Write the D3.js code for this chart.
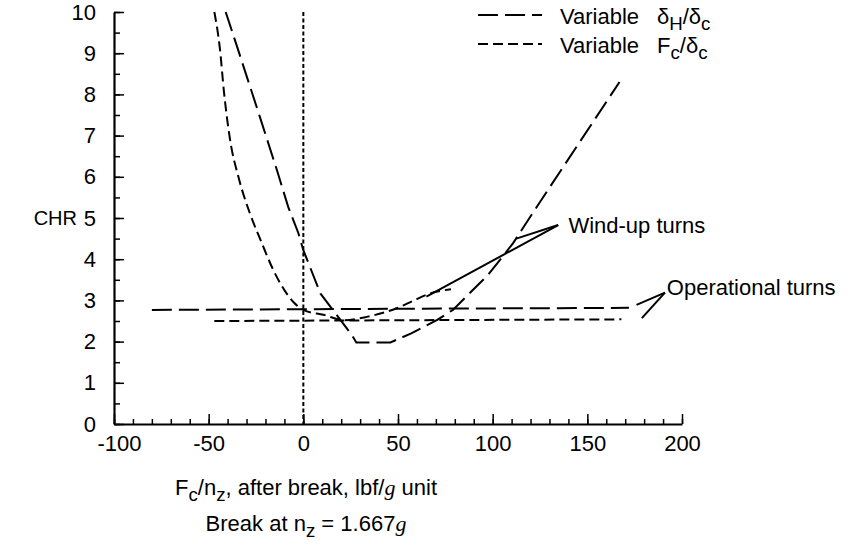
<!DOCTYPE html>
<html lang="en">
<head>
<meta charset="utf-8">
<title>CHR vs Fc/nz</title>
<script src="https://d3js.org/d3.v7.min.js"></script>
<style>
  body { margin: 0; background: #fff; }
  text { font-family: "Liberation Sans", Arial, Helvetica, sans-serif; fill: #000; }
</style>
</head>
<body>
<script>
// wind-up turns, variable dH/dc (long dash)
var windupDhX = [-41, -35, -29, -23, -14, -8, -2.6, 0, 9, 25.6, 28, 46, 57, 70.5, 79, 97.6, 110.8, 125, 167];
var windupDhY = [10, 9.16, 8.31, 7.46, 6.17, 5.27, 4.63, 4.22, 3.17, 2.16, 1.98, 1.98, 2.2, 2.52, 2.77, 3.62, 4.39, 5.39, 8.3];
// wind-up turns, variable Fc/dc (short dash)
var windupFcX = [-47, -44, -42, -38.7, -34.3, -28.2, -22, -16, -10, -5, 0, 10.6, 22, 33.5, 49.3, 58, 67, 78];
var windupFcY = [10, 9.08, 8.1, 6.9, 6.0, 5.11, 4.4, 3.75, 3.25, 2.95, 2.77, 2.65, 2.52, 2.6, 2.81, 2.99, 3.17, 3.27];
// operational turns
var operDhX = [-80, 172];
var operDhY = [2.77, 2.82];
var operFcX = [-47, 168];
var operFcY = [2.50, 2.54];

var xTicks = [-100, -50, 0, 50, 100, 150, 200];
var yTicks = [0, 1, 2, 3, 4, 5, 6, 7, 8, 9, 10];

var W = 852, H = 547;
var svg = d3.select("body").append("svg").attr("width", W).attr("height", H);

var x = d3.scaleLinear().domain([-100, 200]).range([114, 682]);
var y = d3.scaleLinear().domain([0, 10]).range([424, 12]);

var FS = 22;

// minor ticks
svg.append("g")
  .attr("transform", "translate(0," + y(0) + ")")
  .call(d3.axisBottom(x).tickValues(d3.range(-100, 201, 10)).tickSizeInner(-5).tickSizeOuter(0).tickFormat(""))
  .call(function(g){ g.select(".domain").remove(); g.selectAll("line").attr("stroke-width", 1.5); });
svg.append("g")
  .attr("transform", "translate(" + x(-100) + ",0)")
  .call(d3.axisLeft(y).tickValues(d3.range(0, 10.01, 0.5)).tickSizeInner(-6).tickSizeOuter(0).tickFormat(""))
  .call(function(g){ g.select(".domain").remove(); g.selectAll("line").attr("stroke-width", 1.5); });

// major ticks + labels
var xAxis = svg.append("g")
  .attr("transform", "translate(0," + y(0) + ")")
  .call(d3.axisBottom(x).tickValues(xTicks).tickSizeInner(-10).tickSizeOuter(0).tickPadding(11)
    .tickFormat(function(d){ return String(d); }));
var yAxis = svg.append("g")
  .attr("transform", "translate(" + x(-100) + ",0)")
  .call(d3.axisLeft(y).tickValues(yTicks).tickSizeInner(-10).tickSizeOuter(0).tickPadding(18));
[xAxis, yAxis].forEach(function(g){
  g.select(".domain").attr("stroke-width", 2.2);
  g.selectAll("line").attr("stroke-width", 1.5);
  g.selectAll("text").attr("font-size", FS).attr("font-family", "Liberation Sans, Arial, sans-serif");
});
// keep "-100" clear of the y-axis "0"
xAxis.selectAll(".tick text").filter(function(d){ return d === -100; }).attr("dx", 5);

// vertical line at break
svg.append("line")
  .attr("x1", x(0)).attr("x2", x(0)).attr("y1", y(10)).attr("y2", y(0))
  .attr("stroke", "#000").attr("stroke-width", 2).attr("stroke-dasharray", "4,2.5");

function toPts(xs, ys) { return xs.map(function(v, i){ return [v, ys[i]]; }); }

var lineLin = d3.line().x(function(d){ return x(d[0]); }).y(function(d){ return y(d[1]); });
var lineSmooth = d3.line().x(function(d){ return x(d[0]); }).y(function(d){ return y(d[1]); }).curve(d3.curveMonotoneX);

var LONG = "20,7", SHORT = "10,5";

function curve(pts, gen, dash) {
  svg.append("path").datum(pts).attr("d", gen)
    .attr("fill", "none").attr("stroke", "#000").attr("stroke-width", 2).attr("stroke-dasharray", dash);
}
curve(toPts(windupDhX, windupDhY), lineLin, LONG);
curve(toPts(windupFcX, windupFcY), lineSmooth, SHORT);
curve(toPts(operDhX, operDhY), lineLin, LONG);
curve(toPts(operFcX, operFcY), lineLin, SHORT);

// leader lines
function leader(tip, ends) {
  ends.forEach(function(e){
    svg.append("line")
      .attr("x1", x(tip[0])).attr("y1", y(tip[1])).attr("x2", x(e[0])).attr("y2", y(e[1]))
      .attr("stroke", "#000").attr("stroke-width", 2);
  });
}
leader([134.6, 4.83], [[112.5, 4.5], [65, 3.09]]);
leader([191, 3.19], [[176, 2.89], [178.8, 2.57]]);

svg.append("text").attr("x", x(140)).attr("y", y(4.83)).attr("dy", "0.35em")
  .attr("font-size", FS).text("Wind-up turns");
svg.append("text").attr("x", x(192)).attr("y", y(3.33)).attr("dy", "0.35em")
  .attr("font-size", FS).text("Operational turns");

// y label
svg.append("text").attr("x", 77).attr("y", y(5)).attr("dy", "0.35em").attr("text-anchor", "end")
  .attr("font-size", 20).text("CHR");

// legend
svg.append("line").attr("x1", 478).attr("x2", 542).attr("y1", 15).attr("y2", 15)
  .attr("stroke", "#000").attr("stroke-width", 2).attr("stroke-dasharray", LONG);
svg.append("line").attr("x1", 478).attr("x2", 542).attr("y1", 44).attr("y2", 44)
  .attr("stroke", "#000").attr("stroke-width", 2).attr("stroke-dasharray", SHORT);

var l1 = svg.append("text").attr("x", 560).attr("y", 24).attr("font-size", FS);
l1.append("tspan").text("Variable");
l1.append("tspan").attr("x", 657).text("\u03b4");
l1.append("tspan").attr("dy", 6).attr("font-size", FS * 0.85).text("H");
l1.append("tspan").attr("dy", -6).text("/\u03b4");
l1.append("tspan").attr("dy", 6).attr("font-size", FS * 0.85).text("c");

var l2 = svg.append("text").attr("x", 560).attr("y", 53).attr("font-size", FS);
l2.append("tspan").text("Variable");
l2.append("tspan").attr("x", 657).text("F");
l2.append("tspan").attr("dy", 6).attr("font-size", FS * 0.85).text("c");
l2.append("tspan").attr("dy", -6).text("/\u03b4");
l2.append("tspan").attr("dy", 6).attr("font-size", FS * 0.85).text("c");

// x axis title
var t1 = svg.append("text").attr("x", 306).attr("y", 495).attr("text-anchor", "middle").attr("font-size", FS);
t1.append("tspan").text("F");
t1.append("tspan").attr("dy", 6).attr("font-size", FS * 0.85).text("c");
t1.append("tspan").attr("dy", -6).text("/n");
t1.append("tspan").attr("dy", 6).attr("font-size", FS * 0.85).text("z");
t1.append("tspan").attr("dy", -6).text(", after break, lbf/");
t1.append("tspan").attr("font-family", "Liberation Serif, Times New Roman, serif").attr("font-style", "italic").text("g");
t1.append("tspan").text(" unit");

var t2 = svg.append("text").attr("x", 306).attr("y", 531).attr("text-anchor", "middle").attr("font-size", FS);
t2.append("tspan").text("Break at n");
t2.append("tspan").attr("dy", 6).attr("font-size", FS * 0.85).text("z");
t2.append("tspan").attr("dy", -6).text(" = 1.667");
t2.append("tspan").attr("font-family", "Liberation Serif, Times New Roman, serif").attr("font-style", "italic").text("g");
</script>
</body>
</html>
